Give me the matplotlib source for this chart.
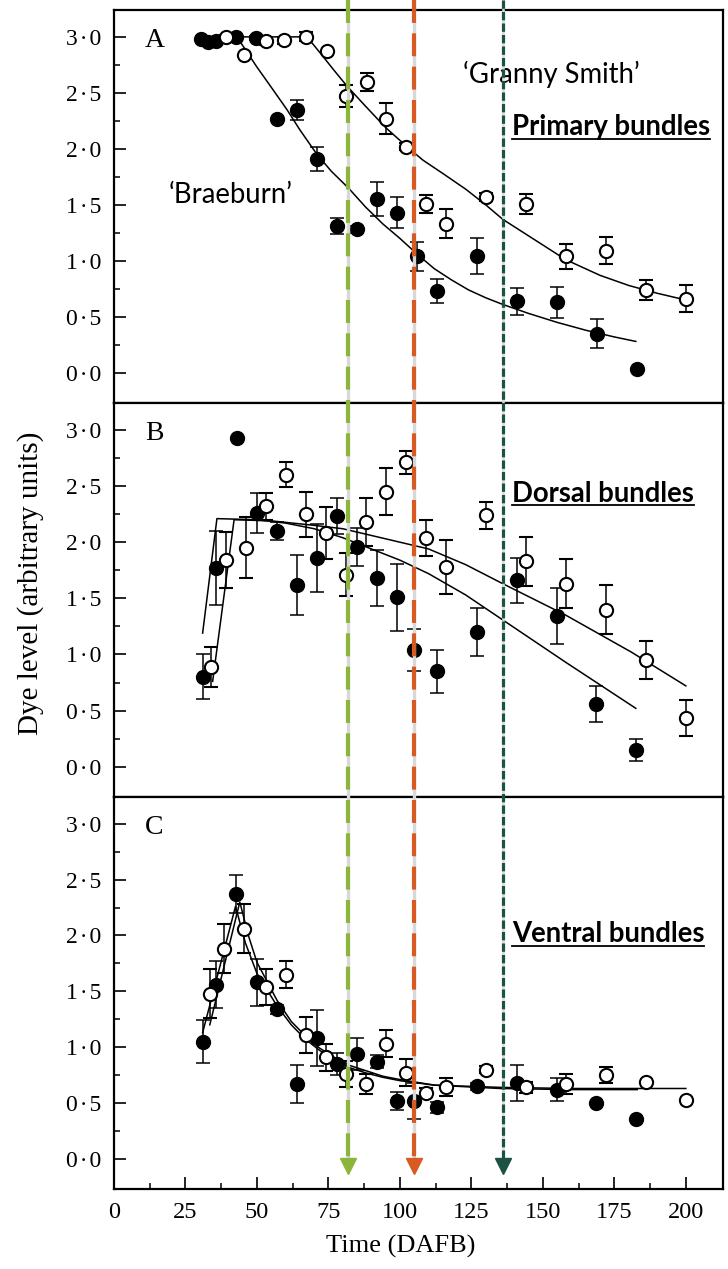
import matplotlib
matplotlib.use('Agg')
import matplotlib.pyplot as plt
import matplotlib.transforms as mtransforms
from matplotlib.lines import Line2D
from matplotlib.ticker import MultipleLocator, FixedLocator, FuncFormatter

plt.rcParams['font.family'] = ['Liberation Serif', 'DejaVu Serif']

# ---- Panel A: primary bundles ----
a_br_days = [30.5, 33, 35.5, 42.5, 49.5, 57, 64, 71, 78, 85, 92, 99, 106, 113, 127, 141, 155, 169, 183]
a_br_dye = [2.98, 2.95, 2.96, 3.0, 2.99, 2.27, 2.35, 1.91, 1.31, 1.28, 1.55, 1.43, 1.04, 0.73, 1.04, 0.64, 0.63, 0.35, 0.03]
a_br_err = [0, 0, 0, 0, 0.02, 0, 0.09, 0.11, 0.07, 0.03, 0.15, 0.14, 0.13, 0.11, 0.16, 0.12, 0.14, 0.13, 0]
a_gs_days = [39, 45.5, 53, 59.5, 67, 74.5, 81, 88.5, 95, 102, 109, 116, 130, 144, 158, 172, 186, 200]
a_gs_dye = [3.0, 2.84, 2.96, 2.97, 3.0, 2.87, 2.47, 2.60, 2.27, 2.02, 1.51, 1.33, 1.57, 1.51, 1.04, 1.09, 0.74, 0.66]
a_gs_err = [0.02, 0, 0.03, 0.03, 0.04, 0, 0.10, 0.08, 0.14, 0.03, 0.08, 0.13, 0.04, 0.09, 0.11, 0.12, 0.09, 0.12]
a_br_fit_x = [30, 43, 50, 55, 60.5, 65, 71, 76, 82, 88, 94, 100, 106, 112, 118, 124, 130, 136, 145, 155, 165, 175, 182.5]
a_br_fit_y = [3.0, 3.0, 2.73, 2.55, 2.35, 2.17, 1.95, 1.80, 1.65, 1.48, 1.33, 1.20, 1.06, 0.93, 0.83, 0.74, 0.67, 0.61, 0.53, 0.45, 0.38, 0.32, 0.28]
a_gs_fit_x = [39, 67.5, 72, 77, 81.5, 88, 95, 102, 108, 115, 123, 130, 136, 147, 158, 170, 180, 190, 200]
a_gs_fit_y = [3.0, 3.0, 2.86, 2.70, 2.56, 2.38, 2.19, 2.03, 1.90, 1.78, 1.64, 1.50, 1.37, 1.19, 1.01, 0.87, 0.78, 0.71, 0.65]

# ---- Panel B: dorsal bundles ----
b_br_days = [31, 35.5, 43, 50, 57, 64, 71, 78, 85, 92, 99, 105, 113, 127, 141, 155, 168.5, 182.5]
b_br_dye = [0.80, 1.77, 2.93, 2.26, 2.10, 1.62, 1.86, 2.23, 1.96, 1.68, 1.51, 1.04, 0.85, 1.20, 1.66, 1.34, 0.56, 0.15]
b_br_err = [0.20, 0.33, 0, 0.18, 0.08, 0.27, 0.30, 0.16, 0.17, 0.25, 0.30, 0.19, 0.19, 0.21, 0.20, 0.25, 0.16, 0.10]
b_gs_days = [34, 39, 46, 53, 60, 67, 74, 81, 88, 95, 102, 109, 116, 130, 144, 158, 172, 186, 200]
b_gs_dye = [0.89, 1.84, 1.95, 2.32, 2.60, 2.25, 2.08, 1.71, 2.18, 2.45, 2.71, 2.04, 1.78, 2.24, 1.83, 1.63, 1.40, 0.95, 0.43]
b_gs_err = [0.18, 0.25, 0.27, 0.12, 0.11, 0.20, 0.23, 0.19, 0.21, 0.21, 0.10, 0.16, 0.24, 0.12, 0.22, 0.22, 0.22, 0.17, 0.16]
b_br_fit_x = [31, 36, 50, 60, 70, 80, 90, 100, 110, 123, 137, 158, 182.5]
b_br_fit_y = [1.19, 2.21, 2.20, 2.17, 2.12, 2.04, 1.94, 1.84, 1.72, 1.53, 1.29, 0.93, 0.52]
b_gs_fit_x = [34.5, 42, 55, 70, 80, 90, 100, 110, 123, 136, 158, 181, 200]
b_gs_fit_y = [0.76, 2.20, 2.19, 2.15, 2.12, 2.06, 2.00, 1.94, 1.80, 1.63, 1.35, 1.02, 0.72]

# ---- Panel C: ventral bundles ----
c_br_days = [31, 35.5, 42.5, 50, 57, 64, 71, 78, 85, 92, 99, 105, 113, 127, 141, 155, 168.5, 182.5]
c_br_dye = [1.05, 1.56, 2.37, 1.58, 1.34, 0.67, 1.08, 0.85, 0.94, 0.87, 0.52, 0.52, 0.46, 0.65, 0.68, 0.62, 0.50, 0.36]
c_br_err = [0.19, 0.21, 0.17, 0.21, 0.04, 0.17, 0.25, 0.10, 0.14, 0.06, 0.08, 0.16, 0.05, 0.03, 0.16, 0.10, 0, 0]
c_gs_days = [33.5, 38.5, 45.5, 53, 60, 67, 74, 81, 88, 95, 102, 109, 116, 130, 144, 158, 172, 186, 200]
c_gs_dye = [1.48, 1.88, 2.06, 1.54, 1.65, 1.11, 0.91, 0.76, 0.67, 1.03, 0.77, 0.59, 0.64, 0.80, 0.64, 0.67, 0.75, 0.69, 0.53]
c_gs_err = [0.22, 0.22, 0.22, 0.16, 0.12, 0.16, 0.12, 0.12, 0.09, 0.12, 0.12, 0.04, 0.08, 0.03, 0.05, 0.09, 0.07, 0, 0]
c_br_fit_x = [31, 42.5, 46, 50, 57, 62, 67, 72, 77, 82, 88, 94, 100, 112, 135, 160, 183]
c_br_fit_y = [1.13, 2.26, 1.93, 1.66, 1.37, 1.20, 1.07, 0.97, 0.89, 0.82, 0.77, 0.73, 0.70, 0.66, 0.63, 0.62, 0.62]
c_gs_fit_x = [33.5, 44, 47, 50, 57, 62, 67, 72, 77, 82, 88, 94, 100, 112, 135, 160, 200]
c_gs_fit_y = [1.20, 2.30, 2.00, 1.76, 1.42, 1.23, 1.10, 0.99, 0.91, 0.84, 0.79, 0.74, 0.71, 0.66, 0.64, 0.63, 0.63]

panel_letters = ['A', 'B', 'C']
bundle_titles = ['Primary bundles', 'Dorsal bundles', 'Ventral bundles']
title_levels = [2.12, 2.36, 1.94]

series = [
    (a_br_days, a_br_dye, a_br_err, a_gs_days, a_gs_dye, a_gs_err,
     a_br_fit_x, a_br_fit_y, a_gs_fit_x, a_gs_fit_y),
    (b_br_days, b_br_dye, b_br_err, b_gs_days, b_gs_dye, b_gs_err,
     b_br_fit_x, b_br_fit_y, b_gs_fit_x, b_gs_fit_y),
    (c_br_days, c_br_dye, c_br_err, c_gs_days, c_gs_dye, c_gs_err,
     c_br_fit_x, c_br_fit_y, c_gs_fit_x, c_gs_fit_y),
]

# stages marked by the arrows (DAFB)
stage_days = [82, 105, 136]
stage_colors = ['#8db53c', '#d65a22', '#1b5242']

W, H = 728, 1269
fig = plt.figure(figsize=(W / 100, H / 100), dpi=100)

ax_left, ax_right = 114, 723
rows = [(10, 403), (403, 797), (797, 1189)]
dot = FuncFormatter(lambda v, pos: f'{v:.1f}'.replace('.', '\u200a\u00b7\u200a'))

axes = []
for (top, bot), letter, data in zip(rows, panel_letters, series):
    bx, by, be, gx, gy, ge, bfx, bfy, gfx, gfy = data
    ax = fig.add_axes([ax_left / W, 1 - bot / H, (ax_right - ax_left) / W, (bot - top) / H])
    ax.set_xlim(0, 213)
    ax.set_ylim(-0.27, 3.24)

    ax.plot(bfx, bfy, color='black', lw=1.1, zorder=2)
    ax.plot(gfx, gfy, color='black', lw=1.1, zorder=2)
    ax.errorbar(bx, by, yerr=be, fmt='o', ms=10, mfc='black', mec='black', ecolor='black',
                elinewidth=1.1, capsize=5, capthick=1.1, zorder=3)
    ax.errorbar(gx, gy, yerr=ge, fmt='o', ms=9.5, mfc='white', mec='black', mew=1.5,
                ecolor='black', elinewidth=1.1, capsize=5, capthick=1.1, zorder=4)

    ax.set_yticks([0, 0.5, 1.0, 1.5, 2.0, 2.5, 3.0])
    ax.yaxis.set_minor_locator(FixedLocator([0.25, 0.75, 1.25, 1.75, 2.25, 2.75]))
    ax.yaxis.set_major_formatter(dot)
    ax.tick_params(axis='y', which='major', direction='in', length=8.5, width=1.2,
                   labelsize=17, pad=9)
    ax.tick_params(axis='y', which='minor', direction='in', length=4.3, width=1.1)
    ax.tick_params(axis='x', which='both', bottom=False, labelbottom=False)
    for s in ax.spines.values():
        s.set_linewidth(1.6)

    ax.text(0.051, 1 - 37 / (bot - top), letter, transform=ax.transAxes,
            fontsize=20, va='baseline', ha='left')
    axes.append(ax)

ax_c = axes[2]
ax_c.xaxis.set_major_locator(MultipleLocator(25))
ax_c.xaxis.set_minor_locator(FixedLocator([12.5 + 25 * i for i in range(8)]))
ax_c.tick_params(axis='x', which='major', bottom=True, labelbottom=True, direction='in',
                 length=8.5, width=1.2, labelsize=17.5, pad=9)
ax_c.tick_params(axis='x', which='minor', bottom=True, direction='in', length=4.3, width=1.1)

fig.text(401 / W, 1 - 1246 / H, 'Time (DAFB)', ha='center', va='center', fontsize=19)
fig.text(31 / W, 1 - 583 / H, 'Dye level (arbitrary units)', rotation=90,
         ha='center', va='center', fontsize=21)

# cultivar names and bundle titles
sans = ['Lato', 'DejaVu Sans']
ax_a = axes[0]
ax_a.text(40.9, 1.52, '\u2018Braeburn\u2019', family=sans, fontsize=19.8, ha='center', va='baseline')
ax_a.text(153, 2.59, '\u2018Granny Smith\u2019', family=sans, fontsize=19.8, ha='center', va='baseline')

titles = []
for ax, name, level in zip(axes, bundle_titles, title_levels):
    titles.append(ax.text(139.2, level, name, family=sans, fontsize=19.8, fontweight='bold',
                          ha='left', va='baseline'))

# staged arrows running down through all panels
trans = mtransforms.blended_transform_factory(ax_c.transData, fig.transFigure)
y_top, y_end, y_tip = 1.0, 1 - 1160 / H, 1 - 1166 / H
for xv, col, lw, dash in zip(stage_days, stage_colors, [3.0, 3.0, 2.3],
                             [(5.5, 2.5), (5.5, 2.5), (2.6, 1.0)]):
    fig.add_artist(Line2D([xv, xv], [y_top, y_end], transform=trans, color='#d8d8d8',
                          lw=lw * 0.8, zorder=10))
    fig.add_artist(Line2D([xv, xv], [y_top, y_end], transform=trans, color=col, lw=lw,
                          linestyle=(0, dash), zorder=11))
    fig.add_artist(Line2D([xv], [y_tip], transform=trans, color=col, marker='v', ms=11.5,
                          linestyle='none', zorder=11))

# underline the bundle titles
fig.canvas.draw()
renderer = fig.canvas.get_renderer()
for t in titles:
    bb = t.get_window_extent(renderer)
    _, yb = t.get_transform().transform(t.get_position())
    fig.add_artist(Line2D([bb.x0 / W, bb.x1 / W], [(yb - 3.5) / H, (yb - 3.5) / H],
                          transform=fig.transFigure, color='black', lw=1.3))

fig.savefig('out.png', dpi=100)
